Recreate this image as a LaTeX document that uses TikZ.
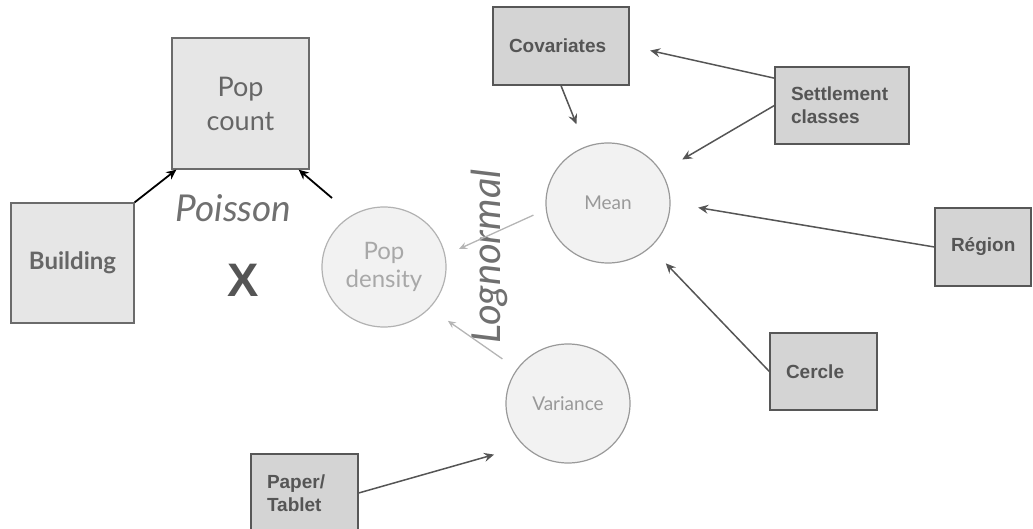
\documentclass[tikz,border=0pt]{standalone}
\usepackage{fontspec}
\setmainfont{Lato}
\newfontfamily\labelfont{Liberation Sans}
\usetikzlibrary{%
    arrows.meta,
    calc,
    positioning,
    shapes.geometric
}

\definecolor{bigfill}{HTML}{E6E6E6}
\definecolor{bigline}{HTML}{6B6B6B}
\definecolor{bigtext}{HTML}{666666}
\definecolor{smallfill}{HTML}{D4D4D4}
\definecolor{smallline}{HTML}{575757}
\definecolor{smalltext}{HTML}{555555}
\definecolor{blobfill}{HTML}{F2F2F2}
\definecolor{blobline}{HTML}{999999}
\definecolor{blobtext}{HTML}{999999}
\definecolor{feedline}{HTML}{555555}
\definecolor{faintline}{HTML}{B5B5B5}
\definecolor{lawtext}{HTML}{707070}

\tikzset{%
    bigbox/.style={draw=bigline, fill=bigfill, line width=1.3pt,
                   inner sep=0pt, align=center, text=bigtext},
    smallbox/.style={draw=smallline, fill=smallfill, line width=1.3pt,
                     minimum height=78pt, inner xsep=16pt, inner ysep=0pt,
                     align=left, text=smalltext,
                     font=\labelfont\bfseries\fontsize{19}{23}\selectfont},
    blob/.style={ellipse, draw=blobline, fill=blobfill, line width=1.2pt,
                 minimum width=124pt, minimum height=120pt, inner sep=0pt,
                 align=center, text=blobtext},
    lawlabel/.style={text=lawtext, anchor=base,
                     font=\itshape\fontsize{37}{42}\selectfont},
    feed/.style={-{Stealth[length=10pt,width=9pt,inset=3.5pt]},
                 draw=feedline, line width=1.5pt},
    faint/.style={-{Stealth[length=8pt,width=7pt,inset=3pt]},
                  draw=faintline, line width=1.3pt},
    strong/.style={-{Stealth[length=10pt,width=9pt]}, line width=1.8pt}
}

\begin{document}
\begin{tikzpicture}[x=1pt, y=-1pt]
    \useasboundingbox (0,0) rectangle (1033,529);

    \node[bigbox, minimum width=137pt, minimum height=131pt,
          font=\fontsize{27}{34}\selectfont] (popcount) at (240.5,103.5) {Pop\\count};
    \node[bigbox, minimum width=123pt, minimum height=120pt,
          font=\bfseries\fontsize{24}{29}\selectfont] (building) at (72.5,263) {Building};

    \node[lawlabel] (poisson) at (233.5,222) {Poisson};
    \node[text=smalltext, anchor=base,
          font=\labelfont\bfseries\fontsize{47}{50}\selectfont] (cross) at (243.5,297) {X};
    \node[lawlabel, rotate=90, font=\itshape\fontsize{40}{44}\selectfont]
        (lognormal) at (500,256.5) {Lognormal};

    \node[blob, draw=blobline!75, text=blobtext!85,
          font=\fontsize{24}{28}\selectfont, yshift=-4pt] (popdens) at (384,263) {Pop\\density};
    \node[blob, font=\fontsize{19}{22}\selectfont] (mean) at (608,203) {\raisebox{-6pt}{Mean}};
    \node[blob, minimum height=119pt,
          font=\fontsize{19}{22}\selectfont] (var) at (568,403.5) {\raisebox{-6pt}{Variance}};

    \node[smallbox, text width=104pt] (cov)    at (561,46)      {Covariates};
    \node[smallbox, text width=102pt, minimum height=77pt]
                                      (settle) at (842,105.5)   {Settlement\\classes};
    \node[smallbox, text width=64pt]  (region) at (983,247)     {Région};
    \node[smallbox, text width=75pt, minimum height=77pt]
                                      (cercle) at (823.5,371.5) {Cercle};
    \node[smallbox, text width=75pt]  (paper)  at (304.5,493)   {Paper/\\Tablet};

    \coordinate (poisright) at (332,198);

    \draw[strong] (building.north east) to ([xshift=5pt]popcount.south west);
    \draw[strong] (poisright) to ([xshift=-11pt]popcount.south east);

    \foreach \From/\To/\Cut in {%
        settle.158/cov.east/21pt,
        cov.south/mean/24pt,
        settle.west/mean/24pt,
        region.west/mean.east/28pt,
        cercle.west/mean/22pt,
        paper.east/var.224/31pt%
        }
        \draw[feed, shorten >=\Cut] (\From) to (\To);

    \draw[faint, shorten <=13.5pt, shorten >=15pt] (mean.186) to (popdens.11);
    \draw[faint, shorten <=17.5pt, shorten >=22pt] (var.146) to (popdens.318);
\end{tikzpicture}
\end{document}
